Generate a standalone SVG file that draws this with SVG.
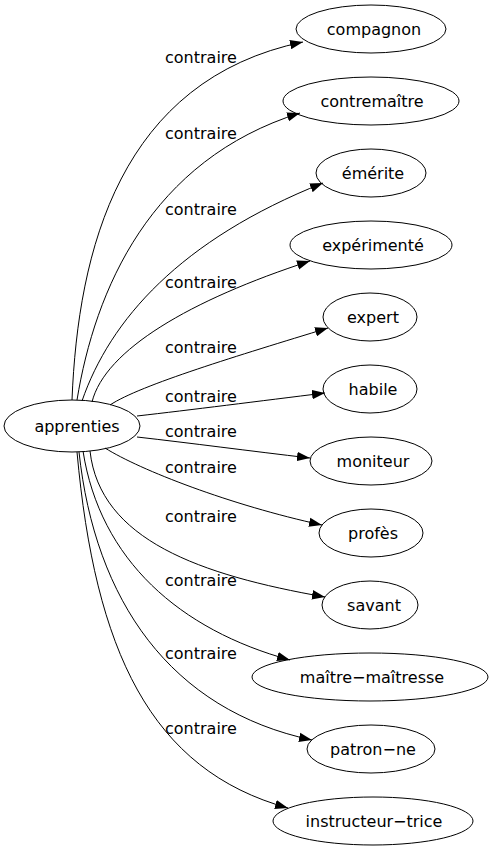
<svg xmlns="http://www.w3.org/2000/svg" width="493" height="851" viewBox="0 0 493 851">
<style>
.node ellipse{fill:none;stroke:#000;stroke-width:1}
.node text{font-family:"DejaVu Sans",sans-serif;font-size:16px;text-anchor:middle;fill:#000}
.edges path{fill:none;stroke:#000;stroke-width:1;marker-end:url(#arr)}
.edges text{font-family:"DejaVu Sans",sans-serif;font-size:16px;fill:#000}
</style>
<defs>
<marker id="arr" markerUnits="userSpaceOnUse" markerWidth="14" markerHeight="10" refX="13" refY="5" orient="auto">
<path d="M0,0.3 L13,5 L0,9.7 Z" fill="#000"/>
</marker>
</defs>
<rect width="493" height="851" fill="#fff"/>
<g class="edges" id="edges">
<path d="M72,400 C78,250 120,80 303,42"/>
<text x="165" y="63">contraire</text>
<path d="M77,400 C95,290 150,160 300,113"/>
<text x="165" y="139">contraire</text>
<path d="M82,401 C110,320 180,240 323,183"/>
<text x="165" y="215">contraire</text>
<path d="M92,402 C105,350 190,300 310,261"/>
<text x="165" y="288">contraire</text>
<path d="M110,405 C140,385 240,355 328,328"/>
<text x="165" y="353">contraire</text>
<path d="M137,416 C190,410 260,401 325,393"/>
<text x="165" y="402">contraire</text>
<path d="M137,437 C190,443 250,451 310,458"/>
<text x="165" y="437">contraire</text>
<path d="M105,448 C140,470 230,505 322,525"/>
<text x="165" y="473">contraire</text>
<path d="M90,451 C100,540 200,575 325,597"/>
<text x="165" y="522">contraire</text>
<path d="M83,451 C100,560 180,630 290,660"/>
<text x="165" y="586">contraire</text>
<path d="M79,452 C95,600 170,710 312,740"/>
<text x="165" y="659">contraire</text>
<path d="M77,452 C95,650 150,770 288,808"/>
<text x="165" y="734">contraire</text>
</g>
<g class="node" id="n-apprenties"><ellipse cx="72" cy="426" rx="68" ry="26"/><text x="77" y="432">apprenties</text></g>
<g class="node" id="n-compagnon"><ellipse cx="371" cy="29" rx="75" ry="24"/><text x="374" y="35">compagnon</text></g>
<g class="node" id="n-contremaitre"><ellipse cx="371" cy="101" rx="88" ry="24"/><text x="372" y="107">contremaître</text></g>
<g class="node" id="n-emerite"><ellipse cx="371" cy="173" rx="55" ry="24"/><text x="373" y="179">émérite</text></g>
<g class="node" id="n-experimente"><ellipse cx="371" cy="245" rx="81" ry="24"/><text x="373" y="251">expérimenté</text></g>
<g class="node" id="n-expert"><ellipse cx="370" cy="317" rx="47" ry="24"/><text x="373" y="323">expert</text></g>
<g class="node" id="n-habile"><ellipse cx="370" cy="389" rx="47" ry="24"/><text x="373" y="395">habile</text></g>
<g class="node" id="n-moniteur"><ellipse cx="371" cy="461" rx="61" ry="24"/><text x="373" y="467">moniteur</text></g>
<g class="node" id="n-profes"><ellipse cx="371" cy="533" rx="52" ry="24"/><text x="373" y="539">profès</text></g>
<g class="node" id="n-savant"><ellipse cx="370" cy="605" rx="48" ry="24"/><text x="374" y="611">savant</text></g>
<g class="node" id="n-maitre-maitresse"><ellipse cx="370" cy="677" rx="118" ry="24"/><text x="372" y="683">maître−maîtresse</text></g>
<g class="node" id="n-patron-ne"><ellipse cx="371" cy="749" rx="64" ry="24"/><text x="373" y="755">patron−ne</text></g>
<g class="node" id="n-instructeur-trice"><ellipse cx="373" cy="821" rx="100" ry="24"/><text x="374" y="827">instructeur−trice</text></g>
</svg>
